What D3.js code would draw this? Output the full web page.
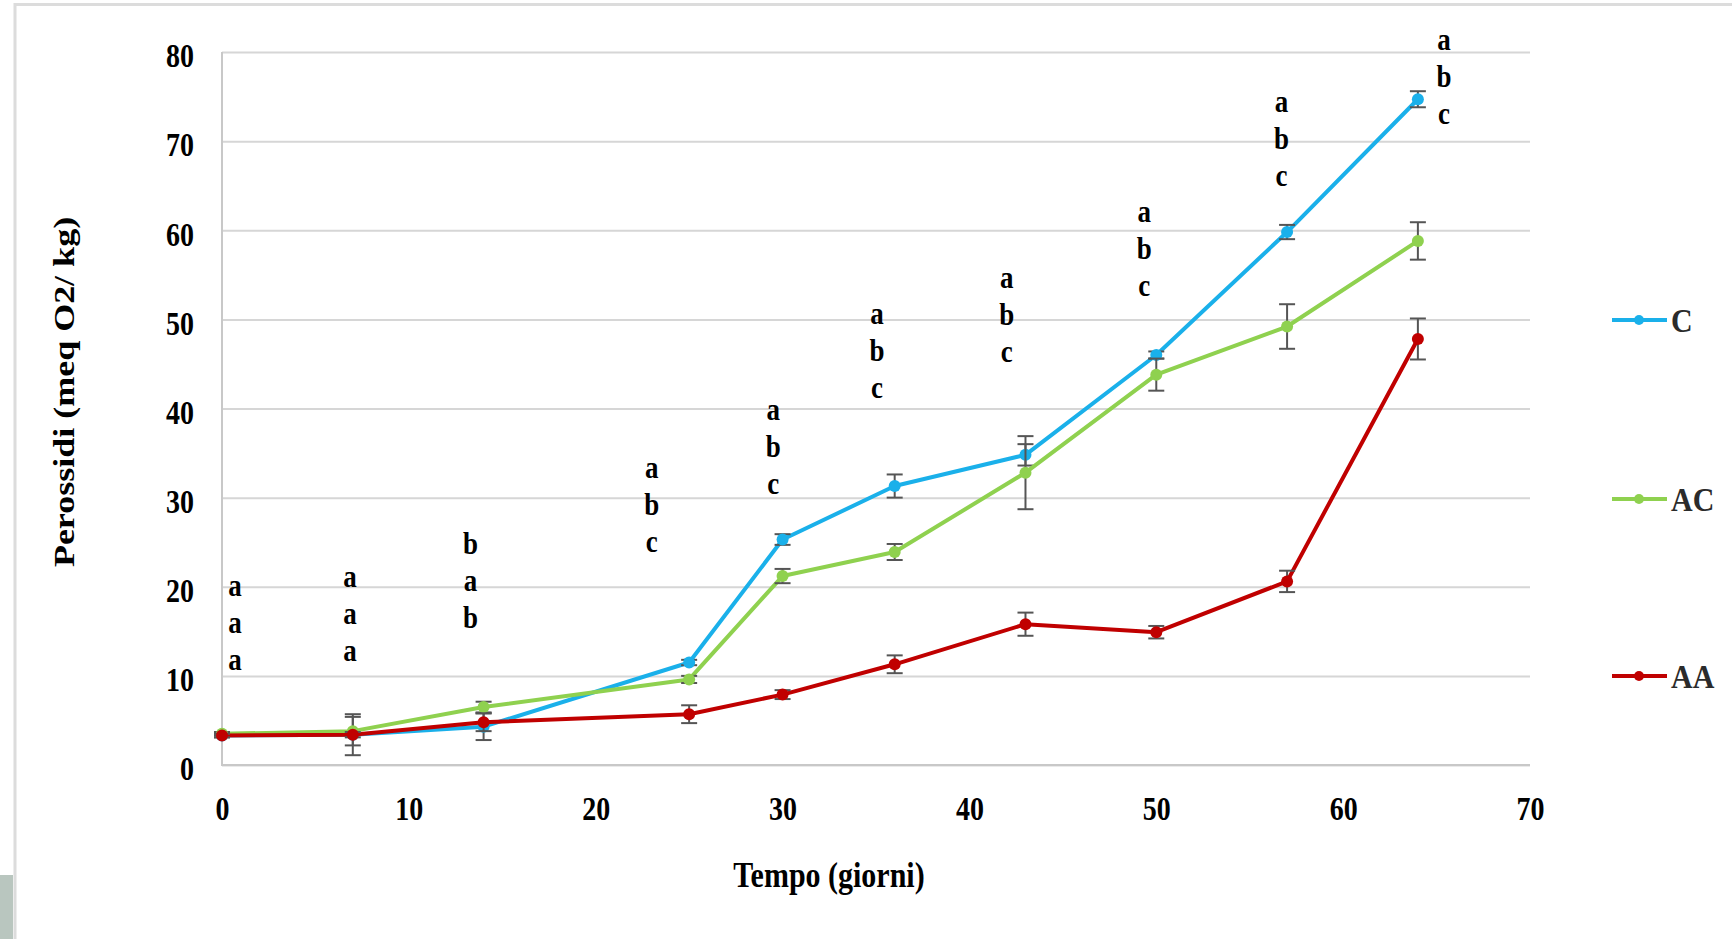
<!DOCTYPE html>
<html>
<head>
<meta charset="utf-8">
<script src="https://cdn.jsdelivr.net/npm/d3@7"></script>
<style>
  body { margin: 0; background: #fff; }
  text { font-family: "Liberation Serif", "Times New Roman", serif; font-weight: bold; }
</style>
</head>
<body>
<div id="chart"></div>
<script>
////////////////////////////////////////////////////////////
//////////////////////// Data //////////////////////////////
////////////////////////////////////////////////////////////

var days = [0, 7, 14, 25, 30, 36, 43, 50, 57, 64];
var seriesNames = ["C", "AC", "AA"];

var valuesC  = [3.3, 3.4, 4.3, 11.5, 25.3, 31.3, 34.8, 46.0, 59.8, 74.7];
var valuesAC = [3.5, 3.8, 6.5, 9.6, 21.2, 23.9, 32.8, 43.8, 49.2, 58.8];
var valuesAA = [3.3, 3.4, 4.8, 5.7, 7.9, 11.3, 15.8, 14.9, 20.6, 47.8];

var errC  = [0.2, 2.3, 1.5, 0.3, 0.6, 1.3, 1.2, 0.4, 0.8, 0.9];
var errAC = [0.2, 1.6, 0.6, 0.4, 0.8, 0.9, 4.1, 1.8, 2.5, 2.1];
var errAA = [0.2, 0.3, 1.0, 1.0, 0.5, 1.0, 1.3, 0.7, 1.2, 2.3];

// significance letters: position (day, value of first line) and text
var letterDays = [0.7, 6.85, 13.3, 23.0, 29.5, 35.05, 42.0, 49.35, 56.7, 65.4];
var letterTops = [20.0, 21.0, 24.7, 33.3, 39.8, 50.6, 54.6, 62.0, 74.3, 81.3];
var letterSets = [
  ["a","a","a"], ["a","a","a"], ["b","a","b"], ["a","b","c"], ["a","b","c"],
  ["a","b","c"], ["a","b","c"], ["a","b","c"], ["a","b","c"], ["a","b","c"]
];

var yTicks = [0, 10, 20, 30, 40, 50, 60, 70, 80];
var xTicks = [0, 10, 20, 30, 40, 50, 60, 70];

////////////////////////////////////////////////////////////
//////////////////////// Set-Up ////////////////////////////
////////////////////////////////////////////////////////////

var W = 1732, H = 939;
var margin = {left: 222, top: 52, right: 202, bottom: 174},
    width = W - margin.left - margin.right,
    height = H - margin.top - margin.bottom;

var colors = ["#1ab0ea", "#8fd14f", "#c00000"];
var stretch = 1.18;   // the original picture is slightly stretched vertically

var series = [
  {name: "C",  values: valuesC,  err: errC},
  {name: "AC", values: valuesAC, err: errAC},
  {name: "AA", values: valuesAA, err: errAA}
];

var x = d3.scaleLinear().domain([0, 70]).range([0, width]);
var y = d3.scaleLinear().domain([0, 80]).range([height, 0]);

var svg0 = d3.select("#chart").append("svg")
  .attr("width", W)
  .attr("height", H);

// frame of the cut-out picture
svg0.append("rect")
  .attr("x", 0).attr("y", 875).attr("width", 13).attr("height", 64)
  .attr("fill", "#b9c6bf");
svg0.append("path")
  .attr("d", "M15,939V4.5H" + W)
  .attr("fill", "none")
  .attr("stroke", "#dcdcdc")
  .attr("stroke-width", 3);

var svg = svg0.append("g")
  .attr("transform", "translate(" + margin.left + "," + margin.top + ")");

////////////////////////////////////////////////////////////
//////////////////////// Axes //////////////////////////////
////////////////////////////////////////////////////////////

var yAxis = svg.append("g")
  .call(d3.axisLeft(y).tickValues(yTicks).tickSize(-width).tickPadding(28));
yAxis.select(".domain").remove();
yAxis.selectAll(".tick line")
  .attr("stroke", "#d6d6d6")
  .attr("stroke-width", 2);
yAxis.selectAll(".tick text")
  .attr("fill", "#000")
  .style("font-size", "28px")
  .attr("dy", "0.45em")
  .attr("transform", "scale(1," + stretch + ")");

var xAxis = svg.append("g")
  .attr("transform", "translate(0," + height + ")")
  .call(d3.axisBottom(x).tickValues(xTicks).tickSize(0).tickPadding(41));
xAxis.select(".domain").remove();
xAxis.selectAll(".tick text")
  .attr("fill", "#000")
  .style("font-size", "28px")
  .attr("dy", "0.2em")
  .attr("transform", "scale(1," + stretch + ")");

// axis lines
svg.append("path")
  .attr("d", "M0," + y(80) + "V" + height + "H" + width)
  .attr("fill", "none")
  .attr("stroke", "#c8c8c8")
  .attr("stroke-width", 2);

// axis titles
svg.append("text")
  .attr("transform", "translate(" + (829 - margin.left) + "," + (height + 122) + ") scale(1," + stretch + ")")
  .attr("text-anchor", "middle")
  .style("font-size", "30px")
  .text("Tempo (giorni)");

svg.append("text")
  .attr("transform", "translate(" + (74 - margin.left) + "," + (392 - margin.top) + ") scale(1," + (stretch + 0.02) + ") rotate(-90)")
  .attr("text-anchor", "middle")
  .style("font-size", "30px")
  .text("Perossidi (meq O2/ kg)");

////////////////////////////////////////////////////////////
//////////////////////// Series ////////////////////////////
////////////////////////////////////////////////////////////

var line = d3.line()
  .x(function(d, i) { return x(days[i]); })
  .y(function(d) { return y(d); });

series.forEach(function(s, k) {
  var g = svg.append("g").attr("class", "series-" + s.name);

  g.append("path")
    .attr("d", line(s.values))
    .attr("fill", "none")
    .attr("stroke", colors[k])
    .attr("stroke-width", 4)
    .attr("stroke-linejoin", "round");

  //error bars
  var eb = g.selectAll("g.err")
    .data(s.values)
    .enter().append("g")
    .attr("class", "err")
    .attr("stroke", "#555")
    .attr("stroke-width", 2);
  eb.append("line")
    .attr("x1", function(d, i) { return x(days[i]); })
    .attr("x2", function(d, i) { return x(days[i]); })
    .attr("y1", function(d, i) { return y(d + s.err[i]); })
    .attr("y2", function(d, i) { return y(d - s.err[i]); });
  [1, -1].forEach(function(sign) {
    eb.append("line")
      .attr("x1", function(d, i) { return x(days[i]) - 8; })
      .attr("x2", function(d, i) { return x(days[i]) + 8; })
      .attr("y1", function(d, i) { return y(d + sign * s.err[i]); })
      .attr("y2", function(d, i) { return y(d + sign * s.err[i]); });
  });

  g.selectAll("circle")
    .data(s.values)
    .enter().append("circle")
    .attr("cx", function(d, i) { return x(days[i]); })
    .attr("cy", function(d) { return y(d); })
    .attr("r", 6)
    .attr("fill", colors[k]);
});

////////////////////////////////////////////////////////////
/////////////////// Significance letters ///////////////////
////////////////////////////////////////////////////////////

letterSets.forEach(function(set, j) {
  set.forEach(function(letter, m) {
    svg.append("text")
      .attr("transform", "translate(" + x(letterDays[j]) + "," + (y(letterTops[j]) + m * 37) + ") scale(1," + stretch + ")")
      .attr("text-anchor", "middle")
      .attr("dy", "0.3em")
      .style("font-size", "27px")
      .text(letter);
  });
});

////////////////////////////////////////////////////////////
//////////////////////// Legend ////////////////////////////
////////////////////////////////////////////////////////////

var legendY = [320, 499, 676];
var legend = svg0.selectAll("g.legend")
  .data(seriesNames)
  .enter().append("g")
  .attr("class", "legend")
  .attr("transform", function(d, i) { return "translate(1612," + legendY[i] + ")"; });

legend.append("line")
  .attr("x1", 0).attr("x2", 55)
  .attr("stroke", function(d, i) { return colors[i]; })
  .attr("stroke-width", 4);
legend.append("circle")
  .attr("cx", 27).attr("r", 5)
  .attr("fill", function(d, i) { return colors[i]; });
legend.append("text")
  .attr("x", 59)
  .attr("dy", "0.35em")
  .attr("transform", "scale(1,1.12)")
  .style("font-size", "30px")
  .attr("fill", "#2b2b2b")
  .text(function(d) { return d; });
</script>
</body>
</html>
